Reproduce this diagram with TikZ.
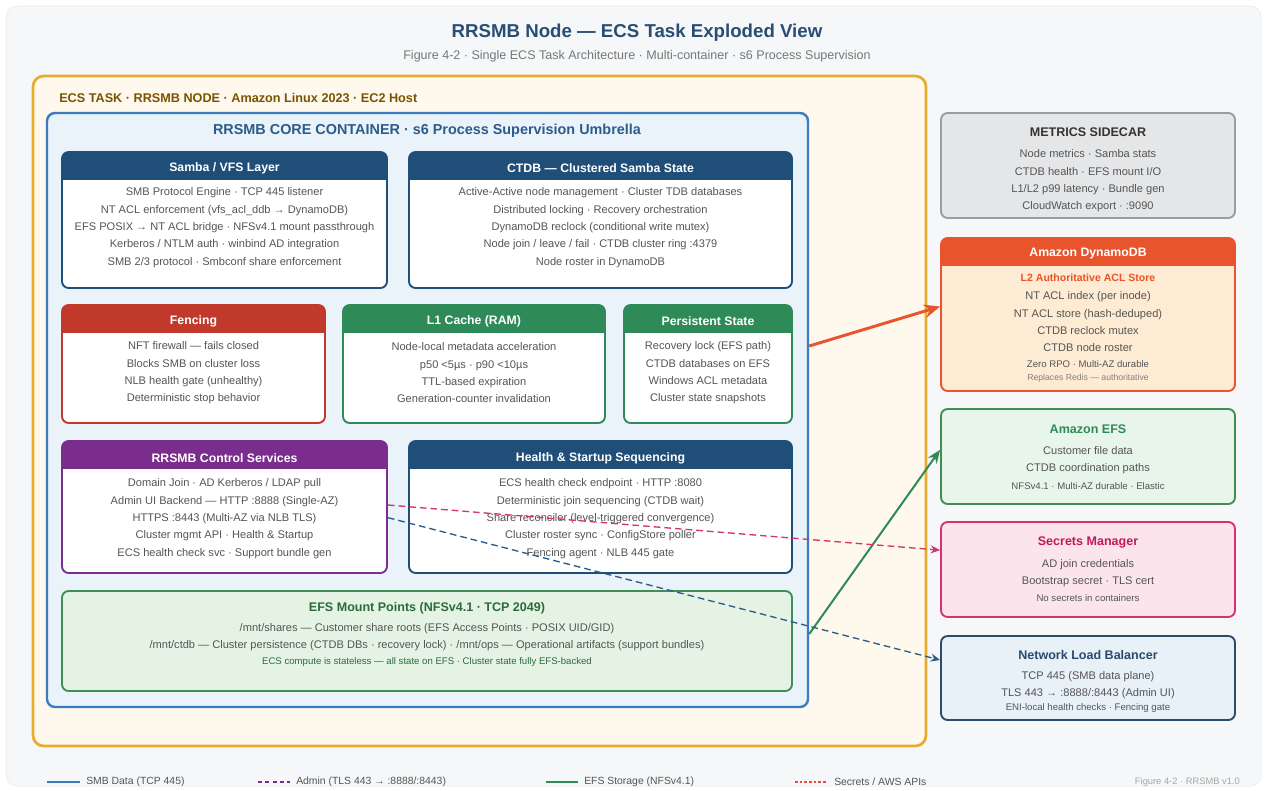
\documentclass[tikz,border=0pt]{standalone}
\usepackage{fontspec}
\setmainfont{Liberation Sans}
\usetikzlibrary{arrows.meta,fit}

\definecolor{pagebg}{HTML}{F5F7F9}
\definecolor{pageline}{HTML}{E6E9EC}
\definecolor{navy}{HTML}{1F4E79}
\definecolor{titleink}{HTML}{2A4D74}
\definecolor{subink}{HTML}{777777}
\definecolor{taskfill}{HTML}{FFF8EC}
\definecolor{taskline}{HTML}{E5AC2E}
\definecolor{taskink}{HTML}{7A5300}
\definecolor{corefill}{HTML}{EAF2FA}
\definecolor{coreline}{HTML}{3B7BBF}
\definecolor{coreink}{HTML}{2B5C8A}
\definecolor{fencered}{HTML}{C0392B}
\definecolor{cachegreen}{HTML}{2E8B57}
\definecolor{ctrlpurple}{HTML}{7B2D8E}
\definecolor{mountfill}{HTML}{E4F3E4}
\definecolor{mountline}{HTML}{3F8F55}
\definecolor{mountink}{HTML}{2D6A3A}
\definecolor{bodyink}{HTML}{555555}
\definecolor{sidefill}{HTML}{E5E6E8}
\definecolor{sideline}{HTML}{9A9DA1}
\definecolor{sideink}{HTML}{333333}
\definecolor{ddborange}{HTML}{E8542B}
\definecolor{ddbfill}{HTML}{FDEBD3}
\definecolor{efsfill}{HTML}{E7F5EA}
\definecolor{secfill}{HTML}{FCE4EC}
\definecolor{secline}{HTML}{D6336C}
\definecolor{secink}{HTML}{C2185B}
\definecolor{nlbfill}{HTML}{E8F0F8}
\definecolor{nlbline}{HTML}{2C4A6E}
\definecolor{legred}{HTML}{E74C3C}

\begin{document}
\begin{tikzpicture}[x=0.75pt, y=-0.75pt,
    every node/.style={font=\fontsize{8.3}{13}\selectfont, text=bodyink, align=center, inner sep=0pt},
    card/.style={draw=#1, fill=white, rounded corners=5pt, line width=1.4pt, inner sep=0pt,
        path picture={\fill[#1, sharp corners] (path picture bounding box.north west) rectangle ([yshift=-21pt]path picture bounding box.north east);}},
    cardtitle/.style={font=\bfseries\fontsize{9.2}{10}\selectfont, text=white},
    panel/.style 2 args={draw=#1, fill=#2, rounded corners=5pt, line width=1.4pt, inner sep=0pt},
    paneltitle/.style={font=\bfseries\fontsize{9.4}{10}\selectfont, text=#1},
    small/.style={font=\fontsize{7.2}{9}\selectfont},
    link/.style={line width=#1},
]
    \fill[white] (0,0) rectangle (1266,790);
    \filldraw[fill=pagebg, draw=pageline, rounded corners=8pt] (6,6) rectangle (1261,786);

    \node[font=\bfseries\fontsize{14}{16}\selectfont, text=titleink] (title) at (637,33) {RRSMB Node — ECS Task Exploded View};
    \node[font=\fontsize{9.4}{11}\selectfont, text=subink] (subtitle) at (637,56) {Figure 4-2 · Single ECS Task Architecture · Multi-container · s6 Process Supervision};

    % task and core container
    \node[panel={taskline}{taskfill}, line width=2pt, rounded corners=8pt, fit={(33,76) (926,746)}] (task) {};
    \node[anchor=west, font=\bfseries\fontsize{9.5}{11}\selectfont, text=taskink] (task-t) at (59,98) {ECS TASK · RRSMB NODE · Amazon Linux 2023 · EC2 Host};
    \node[panel={coreline}{corefill}, line width=1.8pt, rounded corners=6pt, fit={(47,113) (808,707)}] (core) {};
    \node[font=\bfseries\fontsize{10.8}{12}\selectfont, text=coreink] (core-t) at (427,131) {RRSMB CORE CONTAINER · s6 Process Supervision Umbrella};

    % cards
    \node[card=navy, fit={(62,152) (387,288)}] (samba) {};
    \node[cardtitle] (samba-t) at (224.5,168) {Samba / VFS Layer};
    \node (samba-b) at (224.5,227.5) {SMB Protocol Engine · TCP 445 listener\\NT ACL enforcement (vfs\_acl\_ddb → DynamoDB)\\EFS POSIX → NT ACL bridge · NFSv4.1 mount passthrough\\Kerberos / NTLM auth · winbind AD integration\\SMB 2/3 protocol · Smbconf share enforcement};

    \node[card=navy, fit={(409,152) (792,288)}] (ctdb) {};
    \node[cardtitle] (ctdb-t) at (600.5,168) {CTDB — Clustered Samba State};
    \node (ctdb-b) at (600.5,227.5) {Active-Active node management · Cluster TDB databases\\Distributed locking · Recovery orchestration\\DynamoDB reclock (conditional write mutex)\\Node join / leave / fail · CTDB cluster ring :4379\\Node roster in DynamoDB};

    \node[card=fencered, fit={(62,305) (325,423)}] (fence) {};
    \node[cardtitle] (fence-t) at (193.5,321) {Fencing};
    \node (fence-b) at (193.5,373) {NFT firewall — fails closed\\Blocks SMB on cluster loss\\NLB health gate (unhealthy)\\Deterministic stop behavior};

    \node[card=cachegreen, fit={(343,305) (605,423)}] (cache) {};
    \node[cardtitle] (cache-t) at (474,321) {L1 Cache (RAM)};
    \node (cache-b) at (474,373) {Node-local metadata acceleration\\p50 <5µs · p90 <10µs\\TTL-based expiration\\Generation-counter invalidation};

    \node[card=cachegreen, fit={(624,305) (792,423)}] (persist) {};
    \node[cardtitle] (persist-t) at (708,321) {Persistent State};
    \node (persist-b) at (708,373) {Recovery lock (EFS path)\\CTDB databases on EFS\\Windows ACL metadata\\Cluster state snapshots};

    \node[card=ctrlpurple, fit={(62,441) (387,573)}] (ctrl) {};
    \node[cardtitle] (ctrl-t) at (224.5,458) {RRSMB Control Services};
    \node (ctrl-b) at (224.5,518.5) {Domain Join · AD Kerberos / LDAP pull\\Admin UI Backend — HTTP :8888 (Single-AZ)\\HTTPS :8443 (Multi-AZ via NLB TLS)\\Cluster mgmt API · Health \& Startup\\ECS health check svc · Support bundle gen};

    \node[card=navy, fit={(409,441) (792,573)}] (health) {};
    \node[cardtitle] (health-t) at (600.5,458) {Health \& Startup Sequencing};
    \node (health-b) at (600.5,518.5) {ECS health check endpoint · HTTP :8080\\Deterministic join sequencing (CTDB wait)\\Share reconciler (level-triggered convergence)\\Cluster roster sync · ConfigStore poller\\Fencing agent · NLB 445 gate};

    \node[panel={mountline}{mountfill}, fit={(62,591) (792,691)}] (mount) {};
    \node[paneltitle=mountink] (mount-t) at (427,608) {EFS Mount Points (NFSv4.1 · TCP 2049)};
    \node (mount-b) at (427,637) {/mnt/shares — Customer share roots (EFS Access Points · POSIX UID/GID)\\/mnt/ctdb — Cluster persistence (CTDB DBs · recovery lock) · /mnt/ops — Operational artifacts (support bundles)};
    \node[small, text=mountink] (mount-n) at (427,662) {ECS compute is stateless — all state on EFS · Cluster state fully EFS-backed};

    % outside the task
    \node[panel={sideline}{sidefill}, fit={(941,113) (1235,218)}] (metrics) {};
    \node[paneltitle=sideink] (metrics-t) at (1088,132) {METRICS SIDECAR};
    \node (metrics-b) at (1088,181) {Node metrics · Samba stats\\CTDB health · EFS mount I/O\\L1/L2 p99 latency · Bundle gen\\CloudWatch export · :9090};

    \node[card=ddborange, fill=ddbfill, fit={(941,238) (1235,391)}] (ddb) {};
    \node[cardtitle] (ddb-t) at (1088,254) {Amazon DynamoDB};
    \node[font=\bfseries\fontsize{7.9}{10}\selectfont, text=ddborange] (ddb-s) at (1088,278) {L2 Authoritative ACL Store};
    \node (ddb-b) at (1088,322) {NT ACL index (per inode)\\NT ACL store (hash-deduped)\\CTDB reclock mutex\\CTDB node roster};
    \node[font=\fontsize{7.2}{9}\selectfont] (ddb-n) at (1088,364) {Zero RPO · Multi-AZ durable};
    \node[font=\fontsize{6.5}{8}\selectfont, text=gray] (ddb-r) at (1088,378) {Replaces Redis — authoritative};

    \node[panel={mountline}{efsfill}, fit={(941,409) (1235,504)}] (efs) {};
    \node[paneltitle=cachegreen] (efs-t) at (1088,429) {Amazon EFS};
    \node (efs-b) at (1088,460) {Customer file data\\CTDB coordination paths};
    \node[small] (efs-n) at (1088,486) {NFSv4.1 · Multi-AZ durable · Elastic};

    \node[panel={secline}{secfill}, fit={(941,522) (1235,617)}] (secrets) {};
    \node[paneltitle=secink] (secrets-t) at (1088,542) {Secrets Manager};
    \node (secrets-b) at (1088,573) {AD join credentials\\Bootstrap secret · TLS cert};
    \node[small] (secrets-n) at (1088,598) {No secrets in containers};

    \node[panel={nlbline}{nlbfill}, fit={(941,636) (1235,720)}] (nlb) {};
    \node[paneltitle=nlbline] (nlb-t) at (1088,655) {Network Load Balancer};
    \node (nlb-b) at (1088,685) {TCP 445 (SMB data plane)\\TLS 443 → :8888/:8443 (Admin UI)};
    \node[small] (nlb-n) at (1088,708) {ENI-local health checks · Fencing gate};

    % links
    \draw[link=2.2pt, ddborange, -{Stealth[length=12pt, width=10pt]}] ([yshift=48pt]core.east) -- ([yshift=6pt]ddb.west);
    \draw[link=1.5pt, cachegreen, -{Stealth[length=10pt, width=8pt]}] ([yshift=-168pt]core.east) -- ([yshift=5pt]efs.west);
    \draw[link=1pt, secline, dash pattern=on 5pt off 3pt, -{Stealth[length=7pt, width=6pt]}] ([yshift=1.5pt]ctrl.east) -- ([yshift=14.5pt]secrets.west);
    \draw[link=1pt, coreink, dash pattern=on 5pt off 3pt, -{Stealth[length=7pt, width=6pt]}] ([yshift=-8pt]ctrl.east) -- ([yshift=13.5pt]nlb.west);

    % legend
    \coordinate (lg1a) at (47,782);  \coordinate (lg1b) at (80,782);
    \coordinate (lg2a) at (258,782); \coordinate (lg2b) at (290,782);
    \coordinate (lg3a) at (546,782); \coordinate (lg3b) at (578,782);
    \coordinate (lg4a) at (795,782); \coordinate (lg4b) at (826,782);
    \draw[coreline, line width=2pt] (lg1a) -- (lg1b);
    \draw[ctrlpurple, line width=2pt, dash pattern=on 3pt off 2.5pt] (lg2a) -- (lg2b);
    \draw[cachegreen, line width=2pt] (lg3a) -- (lg3b);
    \draw[legred, line width=2pt, dash pattern=on 2pt off 1.5pt] (lg4a) -- (lg4b);
    \node[anchor=west, font=\fontsize{7.8}{9}\selectfont] (lg1) at (86,782) {SMB Data (TCP 445)};
    \node[anchor=west, font=\fontsize{7.8}{9}\selectfont] (lg2) at (296,782) {Admin (TLS 443 → :8888/:8443)};
    \node[anchor=west, font=\fontsize{7.8}{9}\selectfont] (lg3) at (584,782) {EFS Storage (NFSv4.1)};
    \node[anchor=west, font=\fontsize{7.8}{9}\selectfont] (lg4) at (834,782) {Secrets / AWS APIs};
    \node[anchor=east, font=\fontsize{7}{8}\selectfont, text=gray!70] (version) at (1240,782) {Figure 4-2 · RRSMB v1.0};
\end{tikzpicture}
\end{document}
